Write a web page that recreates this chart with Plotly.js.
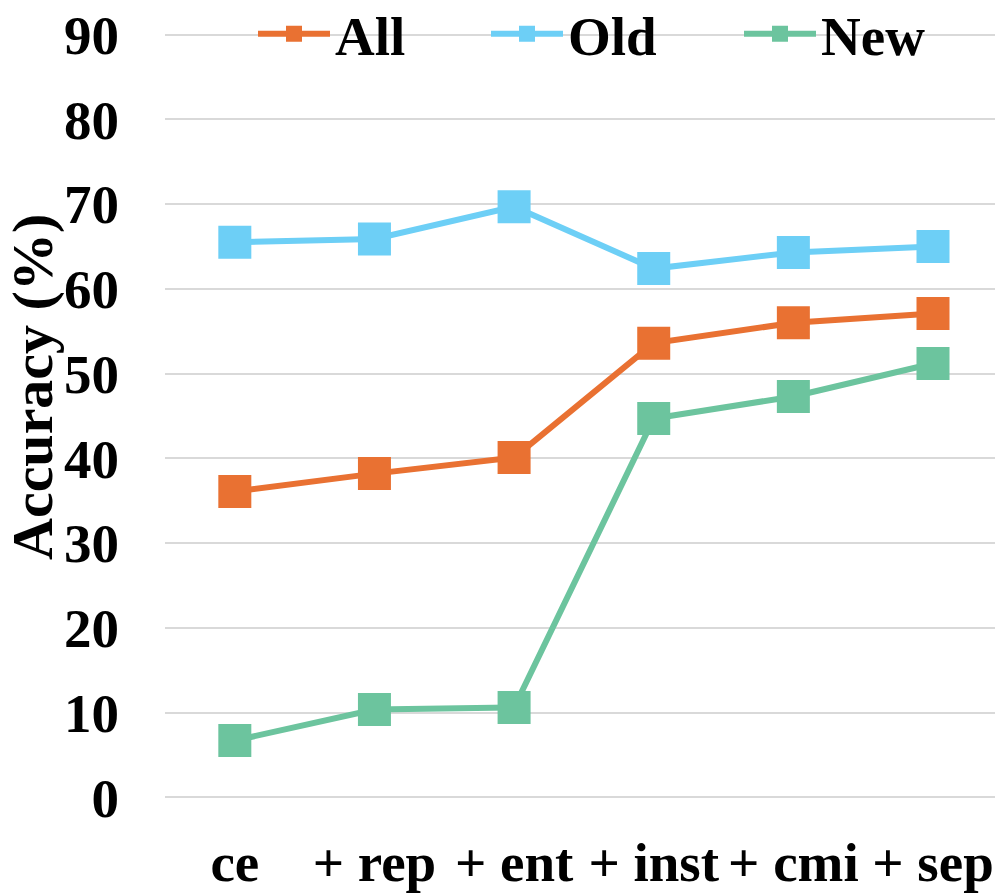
<!DOCTYPE html>
<html>
<head>
<meta charset="utf-8">
<script src="https://cdn.plot.ly/plotly-3.0.1.min.js"></script>
<style>html,body{margin:0;padding:0;background:#fff;}#chart{width:995px;height:895px;}</style>
</head>
<body>
<div id="chart"></div>
<script>
const categories = ["ce", "+ rep", "+ ent", "+ inst", "+ cmi", "+ sep"];
const allAcc = [36.1, 38.2, 40.1, 53.6, 56.0, 57.1];
const oldAcc = [65.5, 65.9, 69.7, 62.4, 64.3, 65.0];
const newAcc = [6.7, 10.35, 10.6, 44.7, 47.3, 51.2];
const yTicks = [0, 10, 20, 30, 40, 50, 60, 70, 80, 90];

const FONT = "Liberation Serif, Times New Roman, serif";
const colors = {all: "#E97132", old: "#6DCFF6", nw: "#6CC49E"};

function mk(name, y, color, legendId) {
  return {
    type: "scatter", mode: "lines+markers", name: name,
    x: categories, y: y,
    line: {color: color, width: 6},
    marker: {symbol: "square", size: 33, color: color},
    cliponaxis: false,
    legend: legendId,
    hoverinfo: "skip"
  };
}

const traces = [
  mk("All", allAcc, colors.all, "legend"),
  mk("Old", oldAcc, colors.old, "legend2"),
  mk("New", newAcc, colors.nw, "legend3")
];

const L = 165, W = 995, T = 33, B = 96, H = 895;
function px2paperX(px) { return (px - L) / (W - L); }
function px2paperY(py) { return (H - B - py) / (H - B - T); }
function legendAt(cx) {
  return {
    orientation: "h", x: px2paperX(cx), xanchor: "center",
    y: px2paperY(34), yanchor: "middle", itemwidth: 72,
    bgcolor: "rgba(0,0,0,0)", borderwidth: 0,
    font: {family: FONT, size: 55, color: "#000", weight: "bold"}
  };
}

const layout = {
  width: 995, height: 895,
  margin: {l: L, r: 0, t: T, b: B, autoexpand: false},
  paper_bgcolor: "#fff", plot_bgcolor: "#fff",
  showlegend: true,
  legend: legendAt(332),
  legend2: legendAt(574),
  legend3: legendAt(835),
  xaxis: {
    type: "category",
    range: [-0.5, 5.444],
    automargin: false,
    showgrid: false, zeroline: false, showline: false,
    ticks: "", ticklabelstandoff: 26,
    tickfont: {family: FONT, size: 55, color: "#000", weight: "bold"}
  },
  yaxis: {
    range: [-0.2, 90.2],
    automargin: false,
    tickvals: yTicks, ticktext: yTicks.map(String),
    showgrid: true, gridcolor: "#D9D9D9", gridwidth: 2,
    zeroline: false, showline: false,
    ticks: "", ticklabelstandoff: 45,
    tickfont: {family: FONT, size: 55, color: "#000", weight: "bold"}
  },
  annotations: [{
    text: "Accuracy (%)", textangle: -90,
    xref: "paper", yref: "paper",
    x: px2paperX(32), y: px2paperY(387),
    xanchor: "center", yanchor: "middle", showarrow: false,
    font: {family: FONT, size: 58, color: "#000", weight: "bold"}
  }]
};

Plotly.newPlot("chart", traces, layout, {displayModeBar: false, staticPlot: true});
</script>
</body>
</html>
